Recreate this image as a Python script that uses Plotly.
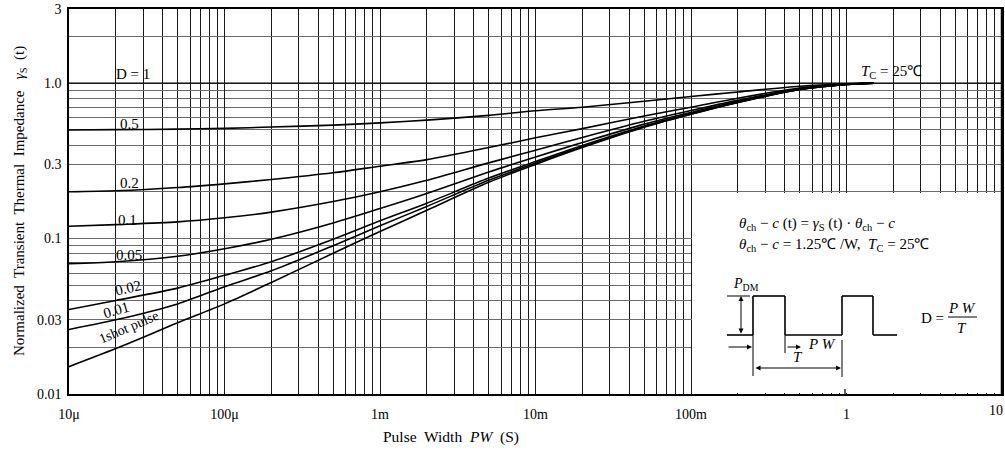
import plotly.graph_objects as go

# ---------------- data ----------------
pulse_width = [1e-5, 2e-5, 5e-5, 1e-4, 2e-4, 5e-4, 1e-3, 2e-3, 5e-3,
               1e-2, 2e-2, 5e-2, 0.1, 0.2, 0.5, 1.0, 1.5]

duty_labels = ["0.5", "0.2", "0.1", "0.05", "0.02", "0.01", "1shot pulse"]

z_d050 = [0.50, 0.502, 0.506, 0.512, 0.522, 0.537, 0.555, 0.578, 0.62,
          0.665, 0.70, 0.765, 0.82, 0.878, 0.955, 0.99, 1.0]
z_d020 = [0.20, 0.203, 0.213, 0.225, 0.240, 0.265, 0.292, 0.322, 0.385,
          0.445, 0.51, 0.615, 0.70, 0.80, 0.93, 0.985, 1.0]
z_d010 = [0.12, 0.123, 0.128, 0.136, 0.148, 0.173, 0.200, 0.237, 0.307,
          0.37, 0.447, 0.568, 0.667, 0.775, 0.92, 0.98, 1.0]
z_d005 = [0.069, 0.071, 0.077, 0.086, 0.099, 0.126, 0.156, 0.195, 0.268,
          0.335, 0.415, 0.545, 0.648, 0.762, 0.915, 0.98, 1.0]
z_d002 = [0.035, 0.040, 0.048, 0.058, 0.071, 0.099, 0.130, 0.169, 0.245,
          0.313, 0.397, 0.53, 0.637, 0.755, 0.91, 0.98, 1.0]
z_d001 = [0.026, 0.030, 0.038, 0.049, 0.062, 0.090, 0.121, 0.161, 0.237,
          0.306, 0.39, 0.525, 0.633, 0.752, 0.91, 0.98, 1.0]
z_1shot = [0.015, 0.0196, 0.0287, 0.038, 0.0522, 0.0805, 0.111, 0.152, 0.230,
           0.300, 0.385, 0.52, 0.63, 0.75, 0.91, 0.98, 1.0]

d1_x = [1e-5, 10]
d1_y = [1.0, 1.0]

x_tickvals = [1e-5, 1e-4, 1e-3, 1e-2, 1e-1, 1, 10]
x_ticktext = ["10μ", "100μ", "1m", "10m", "100m", "1", "10"]
y_tickvals = [0.01, 0.03, 0.1, 0.3, 1.0, 3]
y_ticktext = ["0.01", "0.03", "0.1", "0.3", "1.0", "3"]

# ---------------- layout helpers ----------------
W, H = 1005, 452
L, R, T, B = 69, 3, 9, 58
SERIF = "Liberation Serif"


def fx(px):
    return (px - L) / (W - L - R)


def fy(py):
    return (H - B - py) / (H - T - B)


fig = go.Figure()

for ys in [z_d050, z_d020, z_d010, z_d005, z_d002, z_d001, z_1shot]:
    fig.add_trace(go.Scatter(x=pulse_width, y=ys, mode="lines",
                             line=dict(color="black", width=1.6, shape="spline", smoothing=0.8),
                             hoverinfo="skip", showlegend=False))
fig.add_trace(go.Scatter(x=d1_x, y=d1_y, mode="lines",
                         line=dict(color="black", width=1.4),
                         hoverinfo="skip", showlegend=False))

x_minor = [m * 10 ** k for k in range(-5, 1) for m in range(2, 10)]
y_minor = [m * 10 ** k for k in range(-2, 0) for m in range(2, 10)] + [2]

# the last x tick label sits at the page edge: it is drawn as an annotation below
x_ticktext_axis = x_ticktext[:-1] + [""]

fig.update_xaxes(type="log", range=[-5, 1], tickvals=x_tickvals, ticktext=x_ticktext_axis,
                 showgrid=True, gridcolor="#1a1a1a", gridwidth=1.2,
                 minor=dict(tickvals=x_minor, showgrid=True, gridcolor="#1a1a1a", gridwidth=1.2),
                 ticks="outside", ticklen=6, tickcolor="rgba(0,0,0,0)",
                 showline=True, linecolor="black", linewidth=1.5, mirror=True,
                 tickfont=dict(family=SERIF, size=14, color="black"), zeroline=False)
fig.update_yaxes(type="log", range=[-2, 0.47712], tickvals=y_tickvals, ticktext=y_ticktext,
                 showgrid=True, gridcolor="#6a6a6a", gridwidth=1,
                 minor=dict(tickvals=y_minor, showgrid=True, gridcolor="#6a6a6a", gridwidth=1),
                 ticks="outside", ticklen=3, tickcolor="rgba(0,0,0,0)",
                 showline=True, linecolor="black", linewidth=1.5, mirror=True,
                 tickfont=dict(family=SERIF, size=14, color="black"), zeroline=False)

shapes = []
# white inset box (covers the grid in the lower-right corner)
shapes.append(dict(type="rect", xref="paper", yref="paper",
                   x0=fx(692), x1=fx(1001), y0=fy(393), y1=fy(193),
                   fillcolor="white", line=dict(width=0), layer="above"))
# right frame line
shapes.append(dict(type="line", xref="paper", yref="paper",
                   x0=fx(1001.5), x1=fx(1001.5), y0=0, y1=1,
                   line=dict(color="black", width=1.5)))
# small tick at 1 s on bottom axis
shapes.append(dict(type="line", xref="paper", yref="paper",
                   x0=fx(845), x1=fx(845), y0=fy(394), y1=fy(389),
                   line=dict(color="black", width=1.2)))


def seg(x0, y0, x1, y1, w=1.2):
    shapes.append(dict(type="line", xref="paper", yref="paper",
                       x0=fx(x0), y0=fy(y0), x1=fx(x1), y1=fy(y1),
                       line=dict(color="black", width=w)))


# pulse train
pts = [(727, 335), (753, 335), (753, 296), (785, 296), (785, 335), (842, 335),
       (842, 296), (873, 296), (873, 335), (897, 335)]
for (a, b), (c, d) in zip(pts[:-1], pts[1:]):
    seg(a, b, c, d, 1.6)
seg(727, 296, 750, 296, 1.0)
seg(753, 335, 753, 376, 1.0)
seg(785, 335, 785, 353, 1.0)
seg(842, 340, 842, 377, 1.0)
seg(948, 317, 977, 317, 1.0)

fig.update_layout(shapes=shapes)

ann = []


def text(px, py, s, size=14, angle=0, anchor="center"):
    ann.append(dict(x=fx(px), y=fy(py), xref="paper", yref="paper", text=s,
                    showarrow=False, textangle=angle, xanchor=anchor, yanchor="middle",
                    font=dict(family=SERIF, size=size, color="black")))


def arrow(hx, hy, tx, ty, both=False):
    ann.append(dict(x=fx(hx), y=fy(hy), xref="paper", yref="paper", text="",
                    showarrow=True, ax=tx - hx, ay=ty - hy, axref="pixel", ayref="pixel",
                    arrowhead=2, arrowsize=1, arrowwidth=1, arrowcolor="black",
                    standoff=0, startstandoff=0,
                    arrowside="end+start" if both else "end"))


# curve labels
text(133, 74, "D = 1", size=15)
text(129, 124, duty_labels[0], size=15)
text(129, 183, duty_labels[1], size=15)
text(127, 220, duty_labels[2], size=15)
text(129, 255, duty_labels[3], size=15)
text(128, 288, duty_labels[4], size=15, angle=-13)
text(116, 310, duty_labels[5], size=15, angle=-16)
text(128, 327, duty_labels[6], size=14, angle=-23)
text(891, 72, "<i>T</i><sub>C</sub> = 25℃", size=15)

# last x tick label
text(996, 410, x_ticktext[-1], size=14)

# inset formulas
text(737, 224, "<i>θ</i><sub>ch</sub> − <i>c</i> (t) = <i>γ</i><sub>S</sub> (t) · <i>θ</i><sub>ch</sub> − <i>c</i>",
     size=15, anchor="left")
text(737, 245, "<i>θ</i><sub>ch</sub> − <i>c</i> = 1.25℃ /W,  <i>T</i><sub>C</sub> = 25℃",
     size=15, anchor="left")
text(746, 284, "<i>P</i><sub>DM</sub>", size=14)
text(822, 344, "<i>P W</i>", size=15)
text(798, 357, "<i>T</i>", size=15)
text(932, 318, "D =", size=15)
text(962, 308, "<i>P W</i>", size=15)
text(962, 328, "<i>T</i>", size=15)

arrow(741, 296, 741, 335, both=True)
arrow(752, 347, 727, 347)
arrow(801, 347, 786, 347)
arrow(841, 368, 754, 368, both=True)

# axis titles
text(451, 437, "Pulse  Width  <i>PW</i>  (S)", size=15.5)
ann.append(dict(x=fx(20), y=fy(201), xref="paper", yref="paper",
                text="Normalized  Transient  Thermal  Impedance   <i>γ</i><sub>S</sub>  (t)",
                showarrow=False, textangle=-90, xanchor="center", yanchor="middle",
                font=dict(family=SERIF, size=15, color="black")))

fig.update_layout(annotations=ann, width=W, height=H,
                  margin=dict(l=L, r=R, t=T, b=B, autoexpand=False),
                  paper_bgcolor="white", plot_bgcolor="white", showlegend=False)

fig.write_html("out.html", config={"displayModeBar": False},
               post_script="document.body.style.margin='0px';")
